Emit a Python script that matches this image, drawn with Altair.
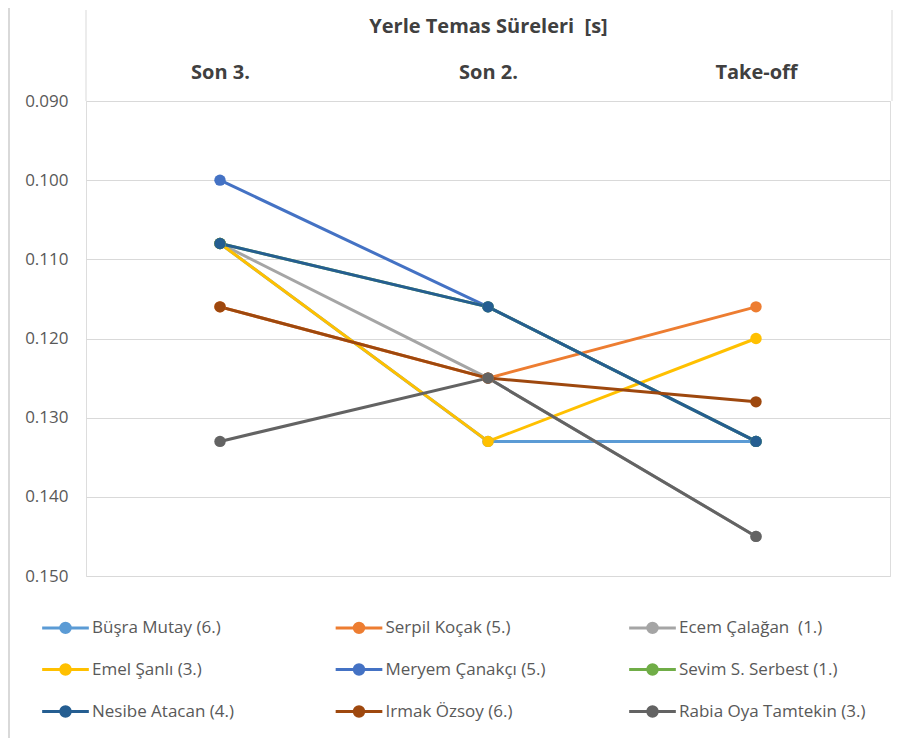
import altair as alt
import pandas as pd

categories = ["Son 3.", "Son 2.", "Take-off"]
series_names = [
    "Büşra Mutay (6.)", "Serpil Koçak (5.)", "Ecem Çalağan\u00a0 (1.)",
    "Emel Şanlı (3.)", "Meryem Çanakçı (5.)", "Sevim S. Serbest (1.)",
    "Nesibe Atacan (4.)", "Irmak Özsoy (6.)", "Rabia Oya Tamtekin (3.)",
]
series_colors = ["#5B9BD5", "#ED7D31", "#A5A5A5", "#FFC000", "#4472C4",
                 "#70AD47", "#255E91", "#9E480E", "#636363"]

busra = [0.108, 0.133, 0.133]
serpil = [0.116, 0.125, 0.116]
ecem = [0.108, 0.125, 0.145]
emel = [0.108, 0.133, 0.120]
meryem = [0.100, 0.116, 0.133]
sevim = [0.108, 0.116, 0.133]
nesibe = [0.108, 0.116, 0.133]
irmak = [0.116, 0.125, 0.128]
rabia = [0.133, 0.125, 0.145]
all_values = [busra, serpil, ecem, emel, meryem, sevim, nesibe, irmak, rabia]

rows = []
for i, (name, vals) in enumerate(zip(series_names, all_values)):
    for j, (cat, v) in enumerate(zip(categories, vals)):
        rows.append({"series": name, "cat": cat, "value": v, "order": i * 10 + j, "sidx": i})
df = pd.DataFrame(rows)

W, H = 804, 475
PL, PT, PR, PB = 78, 93, 8, 162

FONT = "Open Sans"
# line with a dot in the middle (legend symbol); unit square scaled by sqrt(symbolSize)
sym_path = "M-4.45,0L4.45,0M-0.9,0A0.9,0.9,0,1,1,0.9,0A0.9,0.9,0,1,1,-0.9,0Z"

x_enc = alt.X("cat:N", sort=categories,
              scale=alt.Scale(paddingInner=0, paddingOuter=0),
              axis=alt.Axis(orient="top", title="Yerle Temas Süreleri\u00a0 [s]",
                            labelAngle=0, labelFontSize=20, labelFontWeight="bold",
                            labelColor="#404040", labelFont=FONT, labelPadding=19,
                            titleFont=FONT, titleFontSize=20, titleFontWeight="bold",
                            titleColor="#404040", titlePadding=26,
                            domain=False, ticks=False, grid=False))
y_enc = alt.Y("value:Q", scale=alt.Scale(domain=[0.090, 0.150], reverse=True, nice=False, zero=False),
              axis=alt.Axis(title=None, format=".3f", values=[0.09, 0.10, 0.11, 0.12, 0.13, 0.14, 0.15],
                            labelFontSize=17, labelColor="#595959", labelFont=FONT, labelPadding=18,
                            domain=False, ticks=False, gridColor="#D9D9D9", gridWidth=1))
color_enc = alt.Color("series:N", sort=series_names,
                      scale=alt.Scale(domain=series_names, range=series_colors),
                      legend=alt.Legend(title=None, orient="none", legendX=-29, legendY=518,
                                        columns=3, direction="horizontal", padding=0,
                                        symbolType=sym_path, symbolSize=110, symbolStrokeWidth=3,
                                        labelFontSize=17, labelColor="#595959", labelFont=FONT,
                                        labelOffset=18, rowPadding=19, columnPadding=50.5,
                                        gridAlign="all", labelLimit=300))

lines = alt.Chart(df).mark_line(strokeWidth=3).encode(
    x=x_enc, y=y_enc, color=color_enc, detail="series:N",
    order=alt.Order("order:Q"),
)
points = alt.Chart(df).mark_point(filled=True, size=130, opacity=1).encode(
    x=alt.X("cat:N", sort=categories), y="value:Q",
    color=alt.Color("series:N", sort=series_names, legend=None),
    order=alt.Order("sidx:Q"),
)

deco = pd.DataFrame({"k": [0]})
left_hdr = alt.Chart(deco).mark_rule(color="#D9D9D9", strokeWidth=1).encode(
    x=alt.value(0), y=alt.value(-91), y2=alt.value(0))
right_hdr = alt.Chart(deco).mark_rule(color="#D9D9D9", strokeWidth=1).encode(
    x=alt.value(W + 2), y=alt.value(-91), y2=alt.value(0))
left_border = alt.Chart(deco).mark_rule(color="#D9D9D9", strokeWidth=2).encode(
    x=alt.value(-PL + 1), y=alt.value(-PT), y2=alt.value(H + PB))

chart = alt.layer(left_border, left_hdr, right_hdr, lines, points).properties(
    width=W, height=H,
    padding={"left": PL, "top": PT, "right": PR, "bottom": PB},
    autosize=alt.AutoSizeParams(type="none"),
).configure_view(stroke=None).configure(background="white")

chart.save("out.html", embed_options={"renderer": "svg", "actions": False})
